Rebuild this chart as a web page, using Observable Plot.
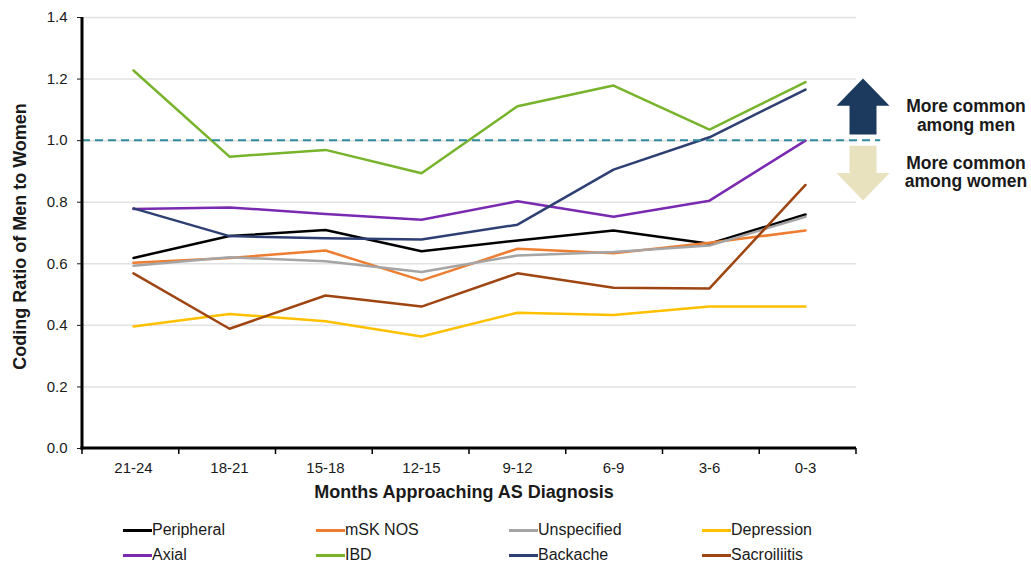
<!DOCTYPE html>
<html>
<head>
<meta charset="utf-8">
<script src="https://cdn.jsdelivr.net/npm/d3@7"></script>
<script src="https://cdn.jsdelivr.net/npm/@observablehq/plot@0.6"></script>
<style>
  html, body { margin: 0; padding: 0; background: #fff; }
  body { width: 1031px; height: 564px; overflow: hidden; font-family: "Liberation Sans", Arial, sans-serif; }
  #chart svg text { font-size: 15px; fill: #1a1a1a; }
  #legend { position: relative; height: 59px; }
  .item { position: absolute; display: flex; align-items: center; font-size: 16px; line-height: 18px; color: #1a1a1a; }
  .sw { width: 29px; height: 3px; margin-right: 0px; }
</style>
</head>
<body>
<div id="chart"></div>
<div id="legend"></div>
<script>
const periods = ["21-24", "18-21", "15-18", "12-15", "9-12", "6-9", "3-6", "0-3"];
const seriesNames = ["Peripheral", "mSK NOS", "Unspecified", "Depression", "Axial", "IBD", "Backache", "Sacroiliitis"];
const seriesColors = ["#000000", "#ED7D31", "#A5A5A5", "#FFC000", "#7A2AB0", "#77B32B", "#2E3F73", "#9E4512"];

const peripheral   = [0.619, 0.690, 0.710, 0.641, 0.676, 0.708, 0.665, 0.760];
const mskNos       = [0.603, 0.619, 0.643, 0.546, 0.649, 0.634, 0.668, 0.708];
const unspecified  = [0.594, 0.621, 0.608, 0.573, 0.627, 0.638, 0.659, 0.753];
const depression   = [0.396, 0.437, 0.413, 0.364, 0.441, 0.434, 0.461, 0.461];
const axial        = [0.778, 0.783, 0.762, 0.743, 0.803, 0.753, 0.805, 1.000];
const ibd          = [1.228, 0.948, 0.970, 0.894, 1.112, 1.179, 1.036, 1.190];
const backache     = [0.780, 0.690, 0.683, 0.679, 0.727, 0.906, 1.011, 1.166];
const sacroiliitis = [0.569, 0.389, 0.497, 0.461, 0.569, 0.522, 0.520, 0.856];

const yTicks = [0, 0.2, 0.4, 0.6, 0.8, 1.0, 1.2, 1.4];
const refValue = 1.0;
const yTitle = "Coding Ratio of Men to Women";
const xTitle = "Months Approaching AS Diagnosis";
const menText = ["More common", "among men"];
const womenText = ["More common", "among women"];

const allSeries = [peripheral, mskNos, unspecified, depression, axial, ibd, backache, sacroiliitis];
const data = [];
allSeries.forEach((vals, i) => vals.forEach((v, j) => data.push({series: seriesNames[i], period: periods[j], value: v})));

const W = 1031, H = 505, ML = 82, MR = 175, MT = 17, MB = 57;

function decorations(index, scales, values, dimensions) {
  const y = scales.y;
  const left = dimensions.marginLeft;
  const right = dimensions.width - dimensions.marginRight;
  const bottom = dimensions.height - dimensions.marginBottom;
  const top = dimensions.marginTop;
  const step = (right - left) / periods.length;
  const g = d3.create("svg:g");
  // reference dashed line
  g.append("line").attr("x1", left).attr("x2", right + step / 4)
    .attr("y1", y(refValue)).attr("y2", y(refValue))
    .attr("stroke", "#2E8A9C").attr("stroke-width", 2).attr("stroke-dasharray", "8,5");
  // axes lines
  g.append("line").attr("x1", left).attr("x2", left).attr("y1", top).attr("y2", bottom + 1.5)
    .attr("stroke", "#000").attr("stroke-width", 3);
  g.append("line").attr("x1", left - 1.5).attr("x2", right).attr("y1", bottom).attr("y2", bottom)
    .attr("stroke", "#000").attr("stroke-width", 3);
  // x boundary ticks
  for (let i = 0; i <= periods.length; i++) {
    const xx = left + i * step;
    g.append("line").attr("x1", xx).attr("x2", xx).attr("y1", bottom).attr("y2", bottom + 6)
      .attr("stroke", "#000").attr("stroke-width", 1.5);
  }
  // arrows
  const cx = right + 7, hw = 26.5, sw = 13.5;
  const upTop = y(1.2), upBase = y(1.112), upBot = y(1.018);
  g.append("path").attr("fill", "#1B3A5E")
    .attr("d", `M${cx},${upTop} L${cx + hw},${upBase} L${cx + sw},${upBase} L${cx + sw},${upBot} L${cx - sw},${upBot} L${cx - sw},${upBase} L${cx - hw},${upBase} Z`);
  const dnTop = y(0.982), dnBase = y(0.893), dnTip = y(0.804);
  g.append("path").attr("fill", "#E8E2BE")
    .attr("d", `M${cx - sw},${dnTop} L${cx + sw},${dnTop} L${cx + sw},${dnBase} L${cx + hw},${dnBase} L${cx},${dnTip} L${cx - hw},${dnBase} L${cx - sw},${dnBase} Z`);
  // arrow texts
  const tx = right + 110;
  const addText = (lines, v1, v2) => {
    [v1, v2].forEach((v, k) => {
      g.append("text").attr("x", tx).attr("y", y(v)).attr("dy", "0.35em")
        .attr("text-anchor", "middle").style("font-weight", "bold").style("font-size", "17.5px")
        .style("fill", "#1a1a1a").text(lines[k]);
    });
  };
  addText(menText, 1.110, 1.050);
  addText(womenText, 0.927, 0.868);
  // titles
  g.append("text").attr("transform", `translate(20,${(top + bottom) / 2 + 4}) rotate(-90)`)
    .attr("dy", "0.35em").attr("text-anchor", "middle").style("font-weight", "bold")
    .style("font-size", "18px").style("fill", "#1a1a1a").text(yTitle);
  g.append("text").attr("x", (left + right) / 2 - 5).attr("y", bottom + 44).attr("dy", "0.35em")
    .attr("text-anchor", "middle").style("font-weight", "bold").style("font-size", "18px")
    .style("fill", "#1a1a1a").text(xTitle);
  return g.node();
}

const chart = Plot.plot({
  width: W, height: H,
  marginLeft: ML, marginRight: MR, marginTop: MT, marginBottom: MB,
  style: {fontFamily: "Liberation Sans, Arial, sans-serif", fontSize: "15px", color: "#1a1a1a", background: "#fff"},
  x: {type: "band", domain: periods, padding: 0, tickSize: 0, tickPadding: 14, label: null},
  y: {domain: [0, 1.4], ticks: yTicks, tickFormat: d3.format(".1f"), tickSize: 5, tickPadding: 10, label: null},
  color: {domain: seriesNames, range: seriesColors},
  marks: [
    Plot.ruleY(yTicks.filter(d => d > 0), {stroke: "#e2e2e2", strokeWidth: 1.5}),
    Plot.line(data, {x: "period", y: "value", z: "series", stroke: "series", strokeWidth: 2.5}),
    decorations
  ]
});
document.getElementById("chart").appendChild(chart);

const legend = document.getElementById("legend");
seriesNames.forEach((name, i) => {
  const col = i % 4, row = Math.floor(i / 4);
  const it = document.createElement("div");
  it.className = "item";
  it.style.left = (123 + col * 193) + "px";
  it.style.top = (16 + row * 25) + "px";
  const sw = document.createElement("span");
  sw.className = "sw";
  sw.style.background = seriesColors[i];
  const tx = document.createElement("span");
  tx.textContent = name;
  it.appendChild(sw); it.appendChild(tx);
  legend.appendChild(it);
});
</script>
</body>
</html>
